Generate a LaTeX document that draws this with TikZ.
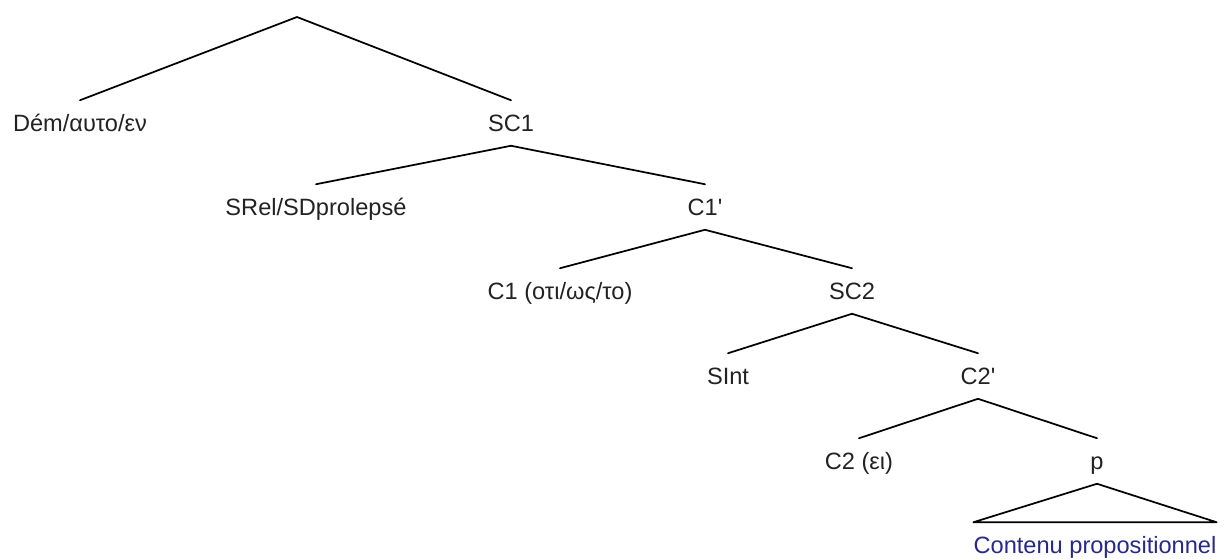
\documentclass[tikz,border=0pt]{standalone}
\usepackage{fontspec}
\setmainfont{Liberation Sans}[Ligatures=TeXOff]
\definecolor{txt}{RGB}{34,34,34}
\definecolor{blu}{RGB}{40,40,140}
\tikzset{
  lbl/.style={inner xsep=1pt, inner ysep=0pt, text height=12.7pt, text depth=0pt,
              minimum height=33.75pt, text=txt, font=\fontsize{17.7}{20}\selectfont},
  edge/.style={draw=black, line width=1.3pt, line cap=round, line join=round}
}
\begin{document}
\begin{tikzpicture}[x=0.75pt, y=-0.75pt]
\useasboundingbox (0,0) rectangle (1225,558);
\coordinate (root) at (297,17);
\node[lbl] (dem) at (80,123) {Dém/αυτο/εν};
\node[lbl] (sc1) at (511,123) {SC1};
\node[lbl] (srel) at (316,207) {SRel/SDprolepsé};
\node[lbl] (c1b) at (705,207) {C1'};
\node[lbl] (c1) at (560,291) {C1 (οτι/ως/το)};
\node[lbl] (sc2) at (852,291) {SC2};
\node[lbl] (sint) at (728,376) {SInt};
\node[lbl] (c2b) at (978,376) {C2'};
\node[lbl] (c2) at (859,461) {C2 (ει)};
\node[lbl] (p) at (1097,461) {p};
\node[lbl, text=blu, inner xsep=0pt] (cont) at (1095,545) {Contenu propositionnel};
\draw[edge] (dem.north) -- (root) -- (sc1.north);
\draw[edge] (srel.north) -- (sc1.south) -- (c1b.north);
\draw[edge] (c1.north) -- (c1b.south) -- (sc2.north);
\draw[edge] (sint.north) -- (sc2.south) -- (c2b.north);
\draw[edge] (c2.north) -- (c2b.south) -- (p.north);
\draw[edge] (p.south) -- (cont.north east) -- (cont.north west) -- cycle;
\end{tikzpicture}
\end{document}
